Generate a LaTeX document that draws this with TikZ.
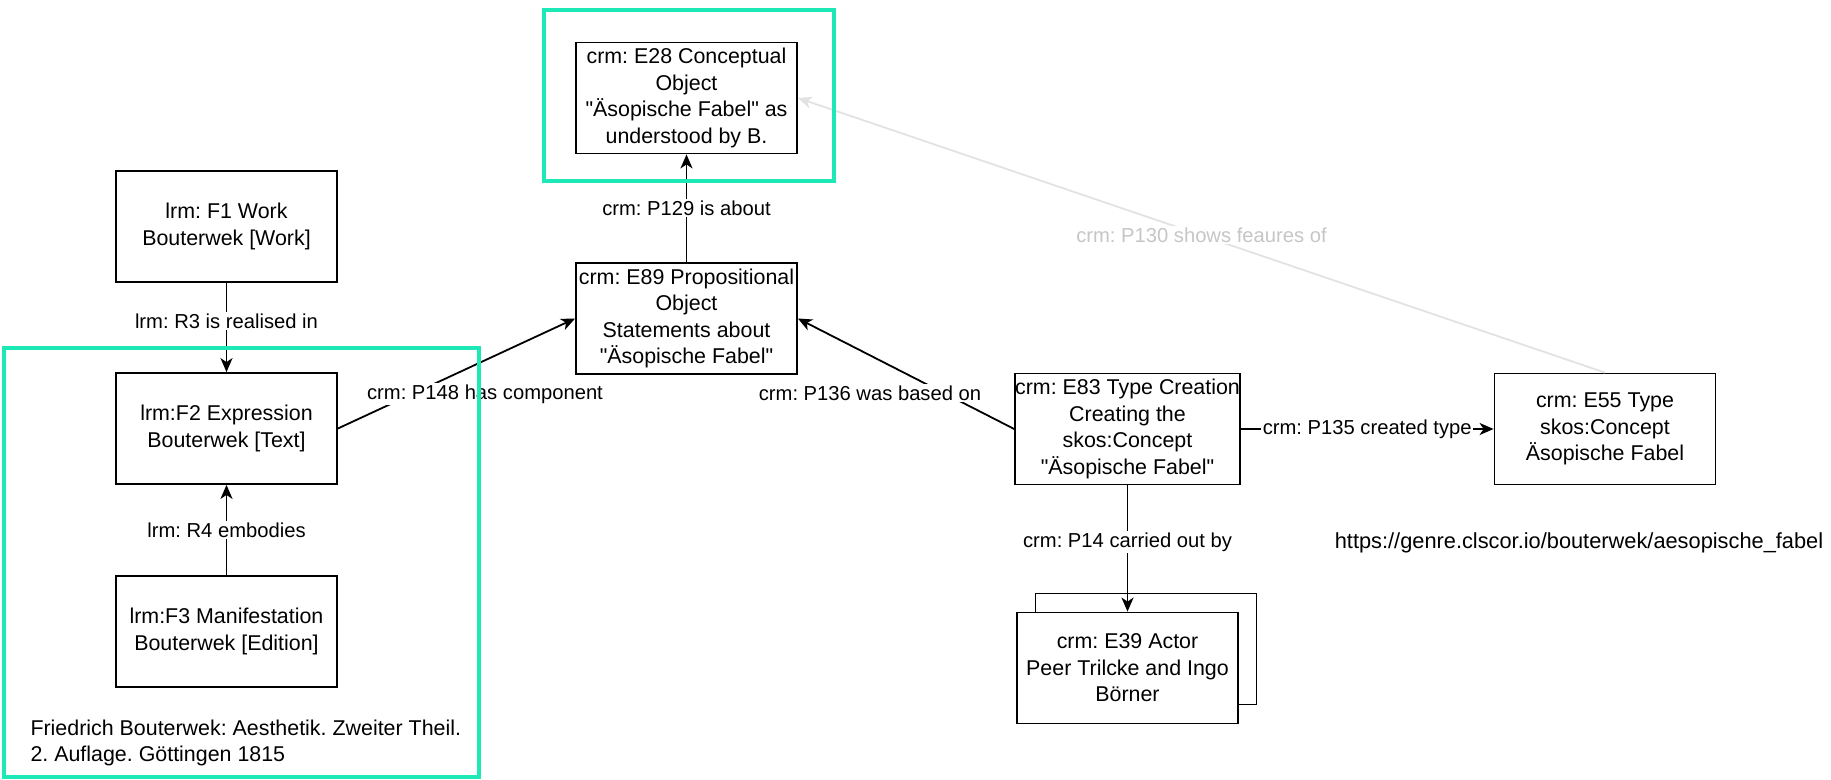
\documentclass[tikz,border=0pt]{standalone}
\usepackage{fontspec}
\setmainfont{Liberation Sans}
\usetikzlibrary{arrows.meta}
\definecolor{mint}{HTML}{1DE9B6}
\definecolor{faintline}{HTML}{E2E2E2}
\definecolor{fainttext}{HTML}{C6C6C6}
\newcommand{\qt}{\XeTeXglyph\XeTeXcharglyph"22\relax}
\frenchspacing

\begin{document}
\begin{tikzpicture}[x=1pt,y=-1pt,
    entity/.style={draw,line width=1.8pt,fill=white,minimum width=221pt,minimum height=111pt,
      inner sep=0pt,align=center,font=\fontsize{21.4}{26.6}\selectfont},
    prop/.style={fill=white,inner sep=1.5pt,font=\fontsize{20.2}{24}\selectfont},
    link/.style={line width=1.8pt,-{Stealth[length=14pt,width=12pt,inset=4pt]}},
    hilite/.style={draw=mint,line width=3.7pt}]
  \useasboundingbox (0,0) rectangle (1831,779);

  \node[entity] (e28) at (686.5,98) {crm: E28 Conceptual\\Object\\\qt Äsopische Fabel\qt{} as\\understood by B.};
  \node[entity] (e89) at (686.5,318.5) {crm: E89 Propositional\\Object\\Statements about\\\qt Äsopische Fabel\qt};
  \node[entity] (f1) at (226.5,226.5) {lrm: F1 Work\\Bouterwek [Work]};
  \node[entity] (f2) at (226.5,428.5) {lrm:F2 Expression\\Bouterwek [Text]};
  \node[entity] (f3) at (226.5,631.5) {lrm:F3 Manifestation\\Bouterwek [Edition]};
  \node[entity] (e83) at (1127.5,429) {crm: E83 Type Creation\\Creating the\\skos:Concept\\\qt Äsopische Fabel\qt};
  \node[entity] (e55) at (1605,429) {crm: E55 Type\\skos:Concept\\Äsopische Fabel};
  \node[entity] (e39b) at (1146,649) {};
  \node[entity] (e39) at (1127.5,668) {crm: E39 Actor\\Peer Trilcke and Ingo\\Börner};

  \draw[link] (e89) -- node[prop] {crm: P129 is about} (e28);
  \draw[link] (f1) -- node[prop,pos=0.43] {lrm: R3 is realised in} (f2);
  \draw[link] (f3) -- node[prop] {lrm: R4 embodies} (f2);
  \draw[link] (f2.east) -- (e89.west);
  \node[prop] (p148) at (485,394) {crm: P148 has component};
  \draw[link] (e83.west) -- (e89.east);
  \node[prop] (p136) at (870,393) {crm: P136 was based on};
  \draw[link] (e83) -- node[prop] {crm: P135 created type} (e55);
  \draw[link] (e83) -- node[prop,pos=0.45] {crm: P14 carried out by} (e39);
  \draw[link,draw=faintline,fill=faintline] (e55.north) -- node[prop,text=fainttext] {crm: P130 shows feaures of} (e28.east);

  \node[anchor=west,align=left,font=\fontsize{21.4}{26.6}\selectfont] (cite) at (27,743)
    {Friedrich Bouterwek: Aesthetik. Zweiter Theil.\\2. Auflage. Göttingen 1815};
  \node[font=\fontsize{21.8}{26.6}\selectfont] (url) at (1579,543) {https://genre.clscor.io/bouterwek/aesopische\_fabel};

  \draw[hilite] (544,10) rectangle (834,181);
  \draw[hilite] (4,348) rectangle (479,777);
\end{tikzpicture}
\end{document}
